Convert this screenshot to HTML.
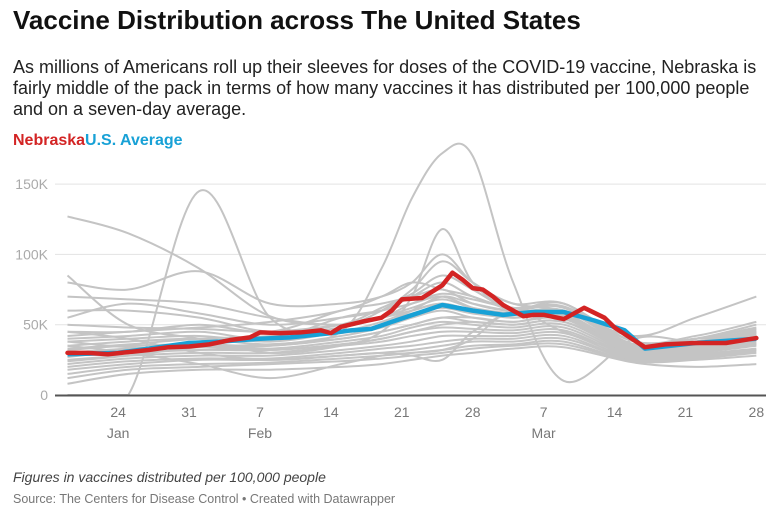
<!DOCTYPE html>
<html><head><meta charset="utf-8">
<style>
body{margin:0;width:779px;height:528px;background:#fff;font-family:"Liberation Sans",sans-serif;overflow:hidden;position:relative}
.t{position:absolute;left:13px}
</style></head><body>
<div class="t" style="top:5px;font-size:26px;font-weight:bold;color:#111">Vaccine Distribution across The United States</div>
<div class="t" style="top:57px;font-size:18px;line-height:21px;color:#222;white-space:nowrap">As millions of Americans roll up their sleeves for doses of the COVID-19 vaccine, Nebraska is<br>fairly middle of the pack in terms of how many vaccines it has distributed per 100,000 people<br>and on a seven-day average.</div>
<div class="t" style="top:132px;font-size:16px;font-weight:bold"><span style="color:#d32424">Nebraska</span><span style="color:#18a1d6">U.S. Average</span></div>
<svg id="chart" width="779" height="460" style="position:absolute;left:0;top:0"></svg>
<div class="t" style="top:469px;font-size:14px;font-style:italic;color:#444">Figures in vaccines distributed per 100,000 people</div>
<div class="t" style="top:492px;font-size:12.5px;color:#777">Source: The Centers for Disease Control • Created with Datawrapper</div>
<script>
const yTicks=[0,50,100,150];
const yTickLabels=["0","50K","100K","150K"];
const xTickDays=[5,12,19,26,33,40,47,54,61,68];
const xTickLabels=["24","31","7","14","21","28","7","14","21","28"];
const monthDays=[5,19,47];
const monthLabels=["Jan","Feb","Mar"];
const grayDays=[0,6,13,20,27,31,34,37,40,44,49,56,62,68];
const g1=[127,115,90,56,50,55,60,65,60,55,60,38,40,45];
const g2=[0,0,145,55,45,50,60,70,65,60,62,35,40,42];
const g3=[30,30,35,35,45,90,140,172,170,80,10,40,38,42];
const g4=[85,50,40,30,35,45,70,118,80,60,60,35,38,40];
const g5=[80,75,88,65,65,70,80,100,80,65,60,42,55,70];
const g6=[70,68,65,55,50,60,75,95,80,65,65,38,42,52];
const g7=[60,60,55,45,50,62,72,85,75,60,60,36,40,50];
const g8=[55,65,58,50,55,60,70,80,70,62,63,38,40,48];
const g9=[45,45,50,45,60,65,70,75,65,60,65,35,38,46];
const g10=[40,42,45,40,55,60,65,70,62,55,60,33,36,44];
const g11=[38,40,42,38,45,52,60,65,60,55,58,32,35,42];
const g12=[35,38,40,36,42,48,55,60,55,52,55,30,34,40];
const g13=[32,35,36,35,40,45,50,55,52,50,52,30,33,38];
const g14=[30,33,35,33,38,42,48,52,50,48,50,29,32,37];
const g15=[28,30,32,32,36,40,45,48,47,46,48,28,31,36];
const g16=[25,28,30,30,35,38,42,45,45,44,46,27,30,35];
const g17=[22,26,28,28,32,35,38,42,42,42,44,26,29,33];
const g18=[20,24,26,26,30,33,35,38,40,40,42,25,28,32];
const g19=[18,22,25,25,28,30,32,35,38,38,40,25,27,31];
const g20=[15,20,22,23,26,28,30,32,35,36,38,24,26,30];
const g21=[12,18,20,22,24,26,28,30,33,35,36,24,25,28];
const g22=[8,15,18,18,20,22,25,28,30,33,34,23,20,22];
const g23=[35,30,22,12,22,28,30,32,40,60,45,30,32,36];
const g24=[45,40,30,25,28,30,28,25,45,58,55,33,36,42];
const g25=[42,45,48,52,60,70,80,75,70,60,55,35,38,44];
const g26=[50,48,47,45,50,55,65,72,68,62,62,36,40,47];
const g27=[33,36,40,42,48,55,62,68,62,58,57,34,37,45];
const g28=[27,32,38,40,44,50,58,62,58,55,56,33,36,43];
const g29=[24,28,34,36,40,45,50,55,55,52,54,31,34,41];
const g30=[38,34,34,32,36,40,45,50,52,50,52,32,35,39];
const grays=[g1,g2,g3,g4,g5,g6,g7,g8,g9,g10,g11,g12,g13,g14,g15,g16,g17,g18,g19,g20,g21,g22,g23,g24,g25,g26,g27,g28,g29,g30];
const usDays=[0,5,9,12,15,19,22,26,28,30,32,37,40,43,46,49,52,55,57,62,68];
const usVals=[29,30,34,37,38,40,41,44,46,47,52,64,60,57,59,59,53,46,33,37,40];
const neDays=[0,2,4,6,8,10,12,14,16,18,19,21,23,25,26,27,29,31,32,33,35,37,38,39,40,41,42,43,44,45,46,47,49,51,53,54,57,59,62,65,68];
const neVals=[30,30,29,30.5,32,34,34.5,36,39,41,44.5,44,44.5,46,44,48.5,52,55,60,68,69,78,87,82,76,75,70,64,60,56,57,57,54,62,55,48,34,36,37,37,40.5];

const svg=document.getElementById('chart');
const NS='http://www.w3.org/2000/svg';
const X=d=>67.5+d*10.13;
const Y=v=>395-v*1.406;
function mk(t,a){const e=document.createElementNS(NS,t);for(const k in a)e.setAttribute(k,a[k]);svg.appendChild(e);return e;}
function smooth(days,vals){const p=days.map((d,i)=>[X(d),Y(vals[i])]);let s='M'+p[0][0]+','+p[0][1];
const c=y=>Math.min(395,y);
for(let i=0;i<p.length-1;i++){const p0=p[i-1]||p[i],p1=p[i],p2=p[i+1],p3=p[i+2]||p2;
s+=' C'+(p1[0]+(p2[0]-p0[0])/6)+','+c(p1[1]+(p2[1]-p0[1])/6)+' '+(p2[0]-(p3[0]-p1[0])/6)+','+c(p2[1]-(p3[1]-p1[1])/6)+' '+p2[0]+','+p2[1];}return s;}
function poly(days,vals){return days.map((d,i)=>(i?'L':'M')+X(d)+','+Y(vals[i])).join(' ');}
yTicks.forEach((v,i)=>{
 if(v>0){const l=mk('line',{x1:55,x2:766,y1:Y(v),y2:Y(v),stroke:'#e3e3e3','stroke-width':1});
 
 }
 const t=mk('text',{x:48,y:Y(v)+5,'text-anchor':'end','font-size':14,fill:'#aaa','font-family':'Liberation Sans'});
 t.textContent=yTickLabels[i];
 
 
});
grays.forEach(g=>{const p=mk('path',{d:smooth(grayDays,g),fill:'none',stroke:'#c4c4c4','stroke-width':2});
 
 });
const us=mk('path',{d:poly(usDays,usVals),fill:'none',stroke:'#18a1d6','stroke-width':4.5,'stroke-linejoin':'round'});


const ne=mk('path',{d:poly(neDays,neVals),fill:'none',stroke:'#d32424','stroke-width':4.5,'stroke-linejoin':'round','stroke-linecap':'round'});


const ax=mk('line',{x1:55,x2:766,y1:395.5,y2:395.5,stroke:'#555','stroke-width':2});


xTickDays.forEach((d,i)=>{const t=mk('text',{x:X(d),y:417,'text-anchor':'middle','font-size':14,fill:'#777','font-family':'Liberation Sans'});
 t.textContent=xTickLabels[i];
 
 });
monthDays.forEach((d,i)=>{const t=mk('text',{x:X(d),y:438,'text-anchor':'middle','font-size':14,fill:'#777','font-family':'Liberation Sans'});
 t.textContent=monthLabels[i];
 
 });
</script>
</body></html>
